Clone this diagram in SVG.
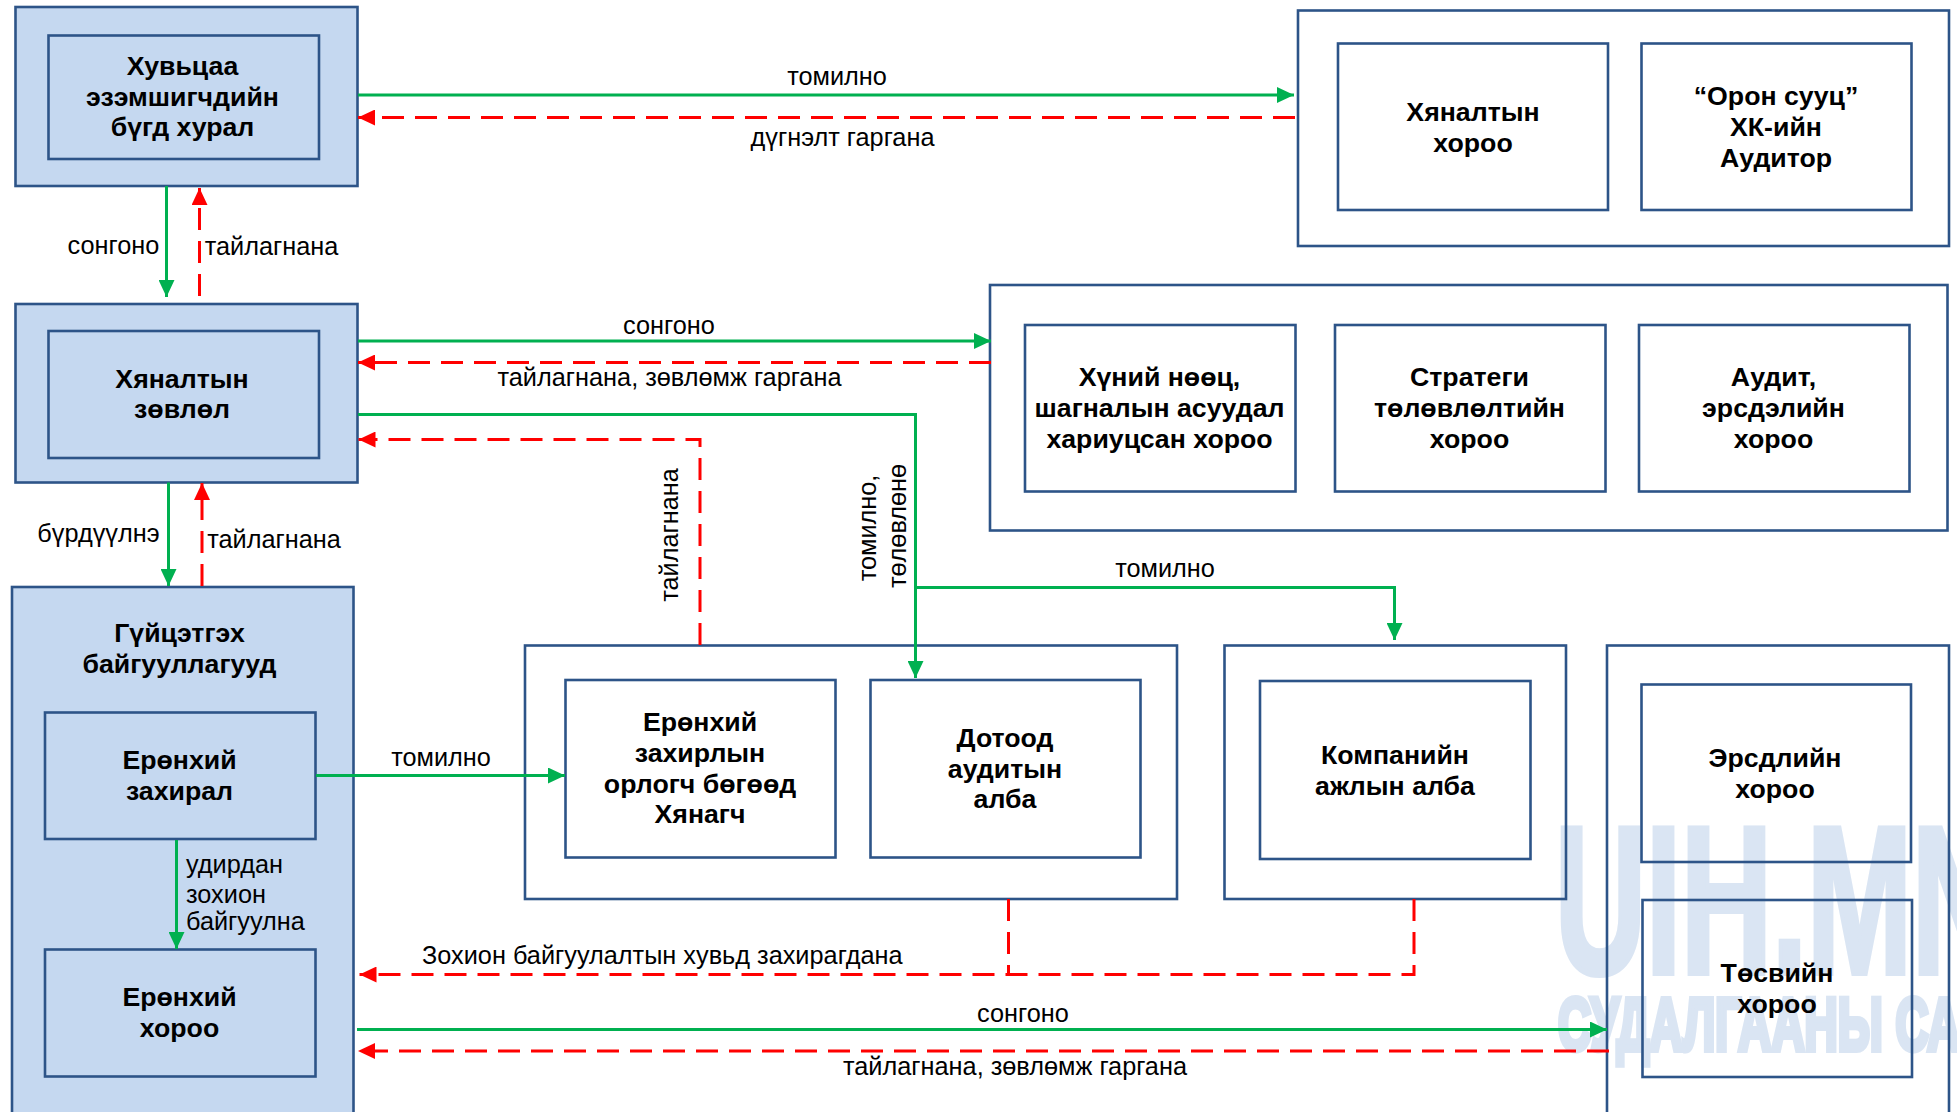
<svg xmlns="http://www.w3.org/2000/svg" width="1957" height="1112" viewBox="0 0 1957 1112">
<style>
text{font-family:"Liberation Sans",Arial,sans-serif;fill:#000}
.b{font-weight:bold;font-size:26.700px;text-anchor:middle}
.l{font-size:25.300px;text-anchor:middle}
.s{font-size:25.300px}
.wm{font-weight:bold;fill:#dae5f3;stroke:#dae5f3;stroke-width:6}
.box{fill:none;stroke:#2d5488;stroke-width:2.600}
.fill{fill:#c5d8f0;stroke:#2d5488;stroke-width:2.600}
.g{fill:none;stroke:#00b050;stroke-width:3}
.r{fill:none;stroke:#ff0000;stroke-width:3;stroke-dasharray:22 11}
</style>
<defs>
<marker id="ag" markerUnits="userSpaceOnUse" markerWidth="17" markerHeight="16" refX="17" refY="8" orient="auto"><path d="M0 0L17 8L0 16Z" fill="#00b050"/></marker>
<marker id="ar" markerUnits="userSpaceOnUse" markerWidth="17" markerHeight="16" refX="17" refY="8" orient="auto"><path d="M0 0L17 8L0 16Z" fill="#ff0000"/></marker>
</defs>
<rect width="1957" height="1112" fill="#fff"/>
<g id="watermark">
<text class="wm" font-size="210" transform="translate(1555,973) scale(.6,1)">UIH.MN</text>
<text class="wm" font-size="74" transform="translate(1558,1050) scale(.62,1)">СУДАЛГААНЫ САН</text>
</g>
<g id="n-shareholders"><rect class="fill" x="15.500" y="7" width="342" height="179"/><rect class="fill" x="48.500" y="35.500" width="270.500" height="123.500"/>
<text class="b" x="182.500" y="75">Хувьцаа</text><text class="b" x="182.500" y="106">эзэмшигчдийн</text><text class="b" x="182.500" y="136">бүгд хурал</text></g>
<g id="n-supervisory"><rect class="fill" x="15.500" y="304" width="342" height="178.500"/><rect class="fill" x="48.500" y="331" width="270.500" height="127"/>
<text class="b" x="182" y="388">Хяналтын</text><text class="b" x="182" y="418">зөвлөл</text></g>
<g id="n-executive"><rect class="fill" x="12" y="587" width="341.500" height="540"/>
<text class="b" x="179.500" y="642">Гүйцэтгэх</text><text class="b" x="179.500" y="673">байгууллагууд</text>
<rect class="fill" x="45" y="712.500" width="270.500" height="126.500"/><text class="b" x="179.500" y="769">Ерөнхий</text><text class="b" x="179.500" y="800">захирал</text>
<rect class="fill" x="45" y="949.500" width="270.500" height="127"/><text class="b" x="179.500" y="1006">Ерөнхий</text><text class="b" x="179.500" y="1037">хороо</text></g>
<g id="n-audit-group"><rect class="box" x="1298" y="10.500" width="651" height="235.500"/>
<rect class="box" x="1338" y="43.500" width="270" height="166.500"/><text class="b" x="1473" y="121">Хяналтын</text><text class="b" x="1473" y="151.500">хороо</text>
<rect class="box" x="1641.500" y="43.500" width="270" height="166.500"/><text class="b" x="1776" y="105">“Орон сууц”</text><text class="b" x="1776" y="136">ХК-ийн</text><text class="b" x="1776" y="167">Аудитор</text></g>
<g id="n-committees"><rect class="box" x="990" y="285" width="957.500" height="245.500"/>
<rect class="box" x="1025" y="325" width="270.500" height="166.500"/><text class="b" x="1159.500" y="385.500">Хүний нөөц,</text><text class="b" x="1159.500" y="416.500">шагналын асуудал</text><text class="b" x="1159.500" y="447.500">хариуцсан хороо</text>
<rect class="box" x="1335" y="325" width="270.500" height="166.500"/><text class="b" x="1469.500" y="385.500">Стратеги</text><text class="b" x="1469.500" y="416.500">төлөвлөлтийн</text><text class="b" x="1469.500" y="447.500">хороо</text>
<rect class="box" x="1639" y="325" width="270.500" height="166.500"/><text class="b" x="1773.500" y="385.500">Аудит,</text><text class="b" x="1773.500" y="416.500">эрсдэлийн</text><text class="b" x="1773.500" y="447.500">хороо</text></g>
<g id="n-deputy-group"><rect class="box" x="525" y="645.500" width="652" height="253.500"/>
<rect class="box" x="565.500" y="680" width="270" height="177.500"/><text class="b" x="700" y="731">Ерөнхий</text><text class="b" x="700" y="762">захирлын</text><text class="b" x="700" y="793">орлогч бөгөөд</text><text class="b" x="700" y="823">Хянагч</text>
<rect class="box" x="870.500" y="680" width="270" height="177.500"/><text class="b" x="1005" y="747">Дотоод</text><text class="b" x="1005" y="778">аудитын</text><text class="b" x="1005" y="808">алба</text></g>
<g id="n-secretariat"><rect class="box" x="1224.500" y="645.500" width="341.500" height="253.500"/>
<rect class="box" x="1260" y="681" width="270.500" height="178"/><text class="b" x="1395" y="764">Компанийн</text><text class="b" x="1395" y="795">ажлын алба</text></g>
<g id="n-risk-group"><rect class="box" x="1607" y="645.500" width="342" height="490"/>
<rect class="box" x="1641.500" y="684.500" width="269.500" height="177.500"/><text class="b" x="1775" y="767">Эрсдлийн</text><text class="b" x="1775" y="798">хороо</text>
<rect class="box" x="1642.500" y="900" width="269.500" height="177"/><text class="b" x="1777" y="982">Төсвийн</text><text class="b" x="1777" y="1013">хороо</text></g>
<g id="connectors">
<path class="g" marker-end="url(#ag)" d="M358 95H1294"/>
<path class="r" marker-end="url(#ar)" d="M1295 117.500H358"/>
<path class="g" marker-end="url(#ag)" d="M166.500 186V297"/>
<path class="r" marker-end="url(#ar)" d="M199.500 296V188"/>
<path class="g" marker-end="url(#ag)" d="M358 341H991"/>
<path class="r" marker-end="url(#ar)" d="M991 362.500H358"/>
<path class="g" marker-end="url(#ag)" d="M358 414.500H915.500V678"/>
<path class="g" marker-end="url(#ag)" d="M915.500 587.500H1394.500V640"/>
<path class="r" marker-end="url(#ar)" d="M700 645V439.500H358.500"/>
<path class="g" marker-end="url(#ag)" d="M168.500 482.500V586"/>
<path class="r" marker-end="url(#ar)" d="M202 586V483"/>
<path class="g" marker-end="url(#ag)" d="M316 775.500H565"/>
<path class="g" marker-end="url(#ag)" d="M176.500 840V949"/>
<path class="r" marker-end="url(#ar)" d="M1414 899V974.500H359.500"/>
<path class="r" d="M1008.500 899V974.500"/>
<path class="g" marker-end="url(#ag)" d="M357 1029.500H1607"/>
<path class="r" marker-end="url(#ar)" d="M1609 1051H358"/>
</g>
<g id="labels">
<text class="l" x="837" y="85">томилно</text>
<text class="l" x="842.500" y="146">дүгнэлт гаргана</text>
<text class="l" x="113.500" y="254">сонгоно</text>
<text class="l" x="271.500" y="255">тайлагнана</text>
<text class="l" x="669" y="334">сонгоно</text>
<text class="l" x="669.500" y="386">тайлагнана, зөвлөмж гаргана</text>
<text class="l" x="98.500" y="542">бүрдүүлнэ</text>
<text class="l" x="274" y="548">тайлагнана</text>
<text class="l" transform="translate(678,535) rotate(-90)">тайлагнана</text>
<text class="l" transform="translate(876,528) rotate(-90)">томилно,</text>
<text class="l" transform="translate(905.500,526) rotate(-90)">төлөвлөнө</text>
<text class="l" x="1165" y="577">томилно</text>
<text class="l" x="441" y="766">томилно</text>
<text class="s" x="186" y="873">удирдан</text>
<text class="s" x="186" y="903">зохион</text>
<text class="s" x="186" y="930">байгуулна</text>
<text class="s" x="422" y="964">Зохион байгуулалтын хувьд захирагдана</text>
<text class="l" x="1023" y="1022">сонгоно</text>
<text class="l" x="1015" y="1075">тайлагнана, зөвлөмж гаргана</text>
</g>
</svg>
